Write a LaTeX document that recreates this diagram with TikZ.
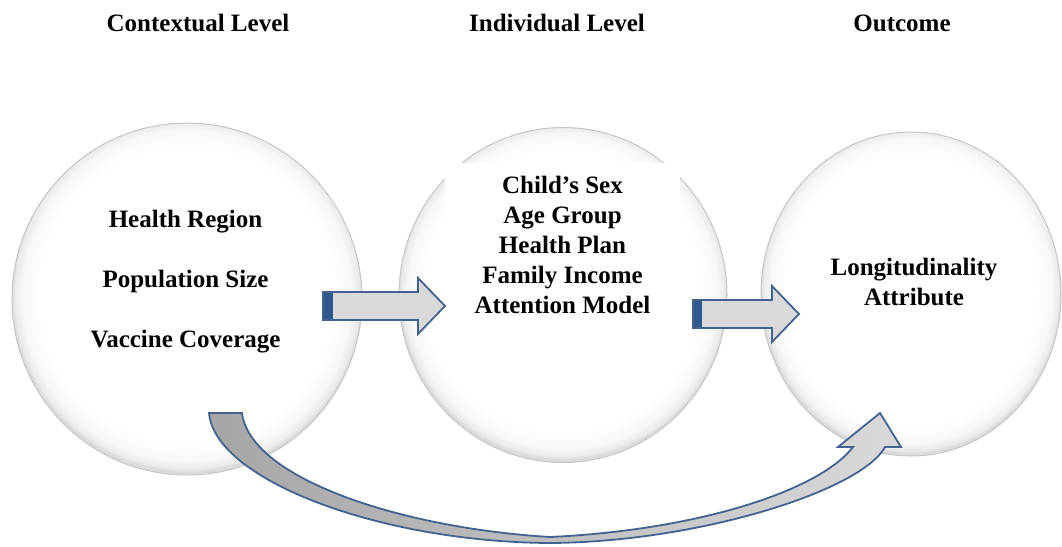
\documentclass[tikz,border=0pt]{standalone}
\usepackage{fontspec}
\setmainfont{Liberation Serif}
\usetikzlibrary{positioning, shapes.geometric}

\definecolor{arrowline}{RGB}{66,99,143}
\definecolor{arrowband}{RGB}{46,88,142}
\definecolor{arrowfill}{RGB}{217,217,217}
\definecolor{curvedark}{RGB}{166,166,166}

% soft white ball, grey only close to the rim (rim sits at 25bp)
\pgfdeclareradialshading{ballshade}{\pgfpoint{0bp}{1bp}}{%
  color(0bp)=(white); color(21bp)=(white); color(23.5bp)=(black!3);
  color(24.6bp)=(black!8); color(25bp)=(black!14); color(50bp)=(black!14)}

\begin{document}
\begin{tikzpicture}[
  x=1pt, y=-1pt,
  every node/.style={inner sep=0pt, font=\fontsize{25}{30}\selectfont\bfseries},
  ball/.style={ellipse, draw=black!22, line width=1pt, shade, shading=ballshade},
  textbox/.style={fill=white, align=center},
  heading/.style={anchor=base},
  blockarrow/.style={draw=arrowline, line width=1.8pt, fill=arrowfill, line join=miter},
  curvearrow/.style={draw=arrowline, line width=1.8pt, left color=curvedark, right color=arrowfill, line join=miter}
]
\useasboundingbox (0,0) rectangle (1062,546);

% Headings
\node[heading] (hctx) at (198,31) {Contextual Level};
\node[heading] (hind) at (557,31) {Individual Level};
\node[heading] (hout) at (902,31) {Outcome};

% Balls
\node[ball, minimum width=350pt, minimum height=352pt] (ctx) at (187,299) {};
\node[ball, minimum width=328pt, minimum height=335pt] (ind) at (563,295) {};
\node[ball, minimum width=300pt, minimum height=324pt] (out) at (911,294) {};

% Variables
\node[textbox, minimum width=235pt, minimum height=167pt] (ctxtext) at (185.5,281.5)
  {Health Region\\[30pt]Population Size\\[30pt]Vaccine Coverage};
\node[textbox, minimum width=235pt, minimum height=164pt] (indtext) at (562.5,245)
  {Child’s Sex\\Age Group\\Health Plan\\Family Income\\Attention Model};
\node[textbox, minimum width=212pt, minimum height=73pt] (outtext) at (914,281.5)
  {Longitudinality\\Attribute};

% Block arrows
\draw[blockarrow] (323,292) -- ++(95,0) -- ++(0,-14) -- ++(27,28) -- ++(-27,28) -- ++(0,-14) -- ++(-95,0) -- cycle;
\fill[arrowband] (324,293) rectangle (333,319);
\draw[blockarrow] (693,300) -- ++(79,0) -- ++(0,-14) -- ++(27,28) -- ++(-27,28) -- ++(0,-14) -- ++(-79,0) -- cycle;
\fill[arrowband] (694,301) rectangle (702,327);

% Curved arrow underneath
\draw[curvearrow] (209,413) -- (242,413)
  .. controls (250,478) and (400,528) .. (550,537)
  .. controls (700,530) and (820,490) .. (853,447)
  -- (838,447) -- (880,413) -- (901,447) -- (885,447)
  .. controls (862,490) and (700,542) .. (550,543)
  .. controls (380,542) and (215,480) .. (209,413) -- cycle;

\end{tikzpicture}
\end{document}
